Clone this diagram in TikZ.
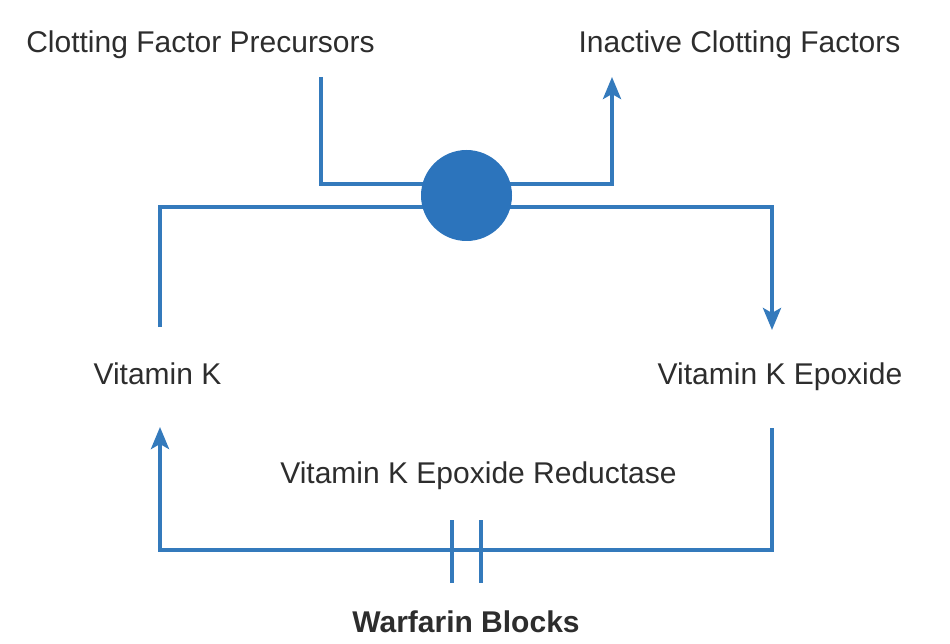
\documentclass[tikz,border=0pt]{standalone}
\usepackage{fontspec}
\setmainfont{Liberation Sans}
\usetikzlibrary{arrows.meta}
\definecolor{lineblue}{RGB}{52,122,188}
\definecolor{dotblue}{RGB}{44,116,188}
\definecolor{txt}{RGB}{45,45,45}
\tikzset{
  conn/.style={draw=lineblue, line width=4pt},
  arr/.style={conn, -{Stealth[length=22pt, width=18pt, inset=5pt]}},
  lbl/.style={anchor=base, inner sep=0pt, text=txt, font=\fontsize{30}{36}\selectfont},
  blbl/.style={lbl, font=\fontsize{30}{36}\selectfont\bfseries},
  dot/.style={circle, fill=dotblue, inner sep=0pt, minimum size=91pt}
}
\begin{document}
\begin{tikzpicture}[x=1pt, y=-1pt]
\useasboundingbox (0,0) rectangle (950,644);
% labels
\node[lbl] (prec) at (200.5,53) {Clotting Factor Precursors};
\node[lbl] (inact) at (739.5,53) {Inactive Clotting Factors};
\node[lbl] (vk) at (157.5,384) {Vitamin K};
\node[lbl] (vke) at (780,384) {Vitamin K Epoxide};
\node[lbl] (vker) at (478.5,483) {Vitamin K Epoxide Reductase};
\node[blbl] (warf) at (466,632) {Warfarin Blocks};
% connector end points
\coordinate (p1) at (321,77);
\coordinate (i1) at (612,77);
\coordinate (m1) at (466,184);
\coordinate (vkt) at (160,327);
\coordinate (vkb) at (160,427);
\coordinate (vet) at (772,330);
\coordinate (veb) at (772,428);
\coordinate (m2) at (466,207);
\coordinate (m3) at (466,550);
\coordinate (b1t) at (452,520);
\coordinate (b1b) at (452,583);
\coordinate (b2t) at (481,520);
\coordinate (b2b) at (481,583);
% connectors
\draw[arr] (p1) |- (m1) -| (i1);
\draw[arr] (vkt) |- (m2) -| (vet);
\draw[arr] (veb) |- (m3) -| (vkb);
\draw[conn] (b1t) -- (b1b);
\draw[conn] (b2t) -- (b2b);
% carrier dot
\node[dot] (carrier) at (466.5,195.5) {};
\end{tikzpicture}
\end{document}
